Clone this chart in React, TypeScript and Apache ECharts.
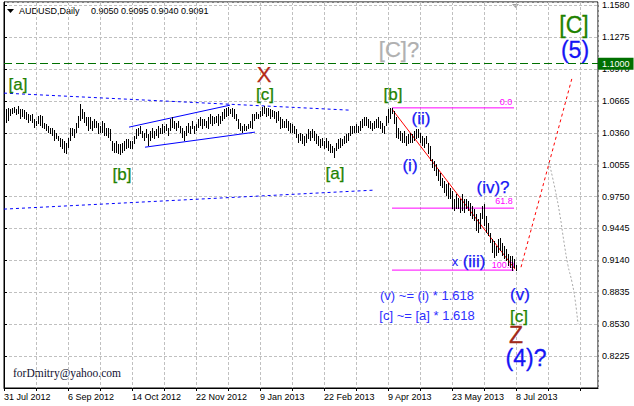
import React, { useEffect, useRef } from "react";
import * as echarts from "echarts";

// ---------- axis set-up ----------
const BASE = 0.792; // price of the bottom edge (axis value 0)
const TICK = 0.0305; // price step between horizontal grid lines
const TOP = 0.369; // axis value of the top edge
const SLOTS = 297; // bar slots across the plot
const X_LABEL_INDEX = [0, 32, 64, 96, 128, 160, 192, 224, 256];
const X_LABELS = [
  "31 Jul 2012",
  "6 Sep 2012",
  "14 Oct 2012",
  "22 Nov 2012",
  "9 Jan 2013",
  "22 Feb 2013",
  "9 Apr 2013",
  "23 May 2013",
  "8 Jul 2013",
];

// ---------- daily bars (high / low) ----------
const HIGHS = [
  1.0554, 1.0585, 1.0595, 1.0585, 1.0601, 1.0611, 1.0585, 1.0617, 1.0585, 1.0585,
  1.0576, 1.0554, 1.0538, 1.0531, 1.0538, 1.049, 1.0474, 1.0522, 1.0531, 1.0522,
  1.0458, 1.0442, 1.0426, 1.041, 1.041, 1.0384, 1.0362, 1.033, 1.0314, 1.0298,
  1.0282, 1.0266, 1.0314, 1.041, 1.041, 1.0394, 1.0458, 1.0522, 1.0633, 1.0585,
  1.0554, 1.0506, 1.0506, 1.0506, 1.0474, 1.049, 1.0474, 1.0458, 1.0426, 1.0474,
  1.0458, 1.041, 1.041, 1.0394, 1.0282, 1.0266, 1.0282, 1.025, 1.025, 1.0266,
  1.0282, 1.0298, 1.0298, 1.0282, 1.0282, 1.033, 1.0394, 1.041, 1.0426, 1.0378,
  1.0362, 1.0394, 1.0346, 1.0378, 1.041, 1.0378, 1.0394, 1.0426, 1.041, 1.0442,
  1.0426, 1.0442, 1.041, 1.049, 1.0506, 1.0474, 1.0458, 1.0474, 1.0426, 1.041,
  1.0378, 1.0426, 1.0458, 1.0426, 1.0474, 1.0426, 1.0442, 1.049, 1.0506, 1.049,
  1.049, 1.0474, 1.0506, 1.0538, 1.0522, 1.0506, 1.0522, 1.0538, 1.0522, 1.0554,
  1.0585, 1.0601, 1.0608, 1.0585, 1.0601, 1.0585, 1.0538, 1.049, 1.0458, 1.0426,
  1.0442, 1.0426, 1.0442, 1.0474, 1.0538, 1.0538, 1.0554, 1.0538, 1.057, 1.0608,
  1.0617, 1.0601, 1.0601, 1.0585, 1.0576, 1.057, 1.0554, 1.057, 1.0506, 1.049,
  1.0474, 1.049, 1.0474, 1.0458, 1.0442, 1.0426, 1.0394, 1.0346, 1.0362, 1.0346,
  1.033, 1.0346, 1.0394, 1.0378, 1.0394, 1.0378, 1.0346, 1.033, 1.0298, 1.0314,
  1.0282, 1.0314, 1.0282, 1.025, 1.0235, 1.0219, 1.0266, 1.0298, 1.0314, 1.0298,
  1.033, 1.0346, 1.0362, 1.0426, 1.0426, 1.0426, 1.0442, 1.0426, 1.0474, 1.049,
  1.0506, 1.0506, 1.049, 1.0474, 1.0458, 1.0474, 1.049, 1.0506, 1.0474, 1.0458,
  1.0426, 1.0522, 1.0585, 1.0601, 1.0601, 1.0569, 1.0506, 1.041, 1.0378, 1.0362,
  1.0378, 1.033, 1.0346, 1.0362, 1.0346, 1.0378, 1.0394, 1.0394, 1.0362, 1.033,
  1.0314, 1.033, 1.0266, 1.0234, 1.0107, 1.0091, 1.0059, 1.0011, 0.9979, 0.9931,
  0.9899, 0.9868, 0.9884, 0.9836, 0.9804, 0.9724, 0.9772, 0.974, 0.9724, 0.9772,
  0.9724, 0.9724, 0.9708, 0.9692, 0.966, 0.9628, 0.9581, 0.9533, 0.9596, 0.966,
  0.9676, 0.9565, 0.9501, 0.9405, 0.9341, 0.9325, 0.9277, 0.9341, 0.9357, 0.9309,
  0.9277, 0.9246, 0.9198, 0.9182, 0.9182, 0.915, 0.9095,
];
const LOWS = [
  1.0442, 1.0458, 1.0474, 1.0522, 1.0538, 1.0547, 1.0531, 1.0538, 1.0496, 1.0506,
  1.049, 1.048, 1.0458, 1.0474, 1.0458, 1.041, 1.0426, 1.0442, 1.0426, 1.041,
  1.0394, 1.0378, 1.0362, 1.0346, 1.033, 1.0282, 1.0298, 1.0282, 1.0225, 1.0203,
  1.0171, 1.0161, 1.0219, 1.0282, 1.033, 1.0314, 1.0362, 1.041, 1.0474, 1.049,
  1.0458, 1.0426, 1.0378, 1.0394, 1.0378, 1.041, 1.041, 1.0346, 1.0362, 1.0362,
  1.033, 1.033, 1.0314, 1.0282, 1.0187, 1.0171, 1.0171, 1.0155, 1.0148, 1.0171,
  1.0187, 1.0203, 1.0219, 1.0203, 1.0203, 1.025, 1.0298, 1.033, 1.0346, 1.0314,
  1.0282, 1.0314, 1.0235, 1.0282, 1.0314, 1.0298, 1.033, 1.0314, 1.0346, 1.0346,
  1.0362, 1.0378, 1.033, 1.0378, 1.041, 1.0394, 1.0378, 1.041, 1.0362, 1.0314,
  1.0282, 1.033, 1.0362, 1.0346, 1.0394, 1.0346, 1.0378, 1.041, 1.0426, 1.0394,
  1.0426, 1.041, 1.0394, 1.0442, 1.0426, 1.0442, 1.0458, 1.0426, 1.0442, 1.0474,
  1.049, 1.0506, 1.0522, 1.0538, 1.0506, 1.049, 1.0474, 1.0394, 1.0378, 1.0362,
  1.0378, 1.0378, 1.0394, 1.041, 1.0394, 1.0474, 1.049, 1.049, 1.0506, 1.0522,
  1.0538, 1.0506, 1.0522, 1.049, 1.0506, 1.049, 1.0458, 1.0474, 1.0394, 1.041,
  1.041, 1.041, 1.0378, 1.0362, 1.0362, 1.0346, 1.0314, 1.0266, 1.0282, 1.025,
  1.0235, 1.0266, 1.0298, 1.0282, 1.0314, 1.0282, 1.025, 1.0235, 1.0219, 1.0235,
  1.0203, 1.0219, 1.0187, 1.0171, 1.0171, 1.0123, 1.0187, 1.0203, 1.0219, 1.0235,
  1.025, 1.0266, 1.0282, 1.033, 1.0346, 1.0362, 1.0362, 1.0362, 1.0378, 1.041,
  1.0426, 1.0426, 1.041, 1.0394, 1.0378, 1.0394, 1.041, 1.041, 1.0394, 1.0362,
  1.0346, 1.0426, 1.0458, 1.049, 1.0538, 1.0442, 1.0314, 1.0298, 1.0282, 1.0266,
  1.0266, 1.0234, 1.025, 1.0266, 1.0266, 1.0282, 1.0298, 1.0314, 1.0266, 1.0234,
  1.0218, 1.025, 1.0155, 1.0091, 1.0027, 0.9995, 0.9947, 0.9899, 0.9852, 0.9836,
  0.9788, 0.9756, 0.9724, 0.9724, 0.9628, 0.9612, 0.9628, 0.9628, 0.9596, 0.9612,
  0.9596, 0.9628, 0.9612, 0.9565, 0.9533, 0.9517, 0.9421, 0.9405, 0.9437, 0.9533,
  0.9469, 0.9405, 0.9373, 0.9309, 0.9214, 0.9166, 0.9182, 0.9214, 0.923, 0.9182,
  0.915, 0.9134, 0.9086, 0.907, 0.9038, 0.907, 0.904,
];

// ---------- drawn objects (bar index, price) ----------
const LEVEL_LINE = 1.1;
const FIB_TOP = 1.0598;
const FIB_BOTTOM = 0.9047;
const FIB_LEVELS = [0, 61.8, 100];
const FIB_LABELS = ["0.0", "61.8", "100.0"];
const FIB_FROM = 194;
const FIB_TO = 255;
const CHANNEL_UPPER = [[0, 1.0739], [173, 1.0576]];
const CHANNEL_LOWER = [[0, 0.963], [184.5, 0.9811]];
const WEDGE_UPPER = [[62.5, 1.0414], [113, 1.0624]];
const WEDGE_LOWER = [[70.5, 1.0222], [125.5, 1.0366]];
const DECLINE_LINE = [[194, 1.0586], [255.5, 0.9056]];
const PROJECTION_UP = [[258.5, 0.9075], [284, 1.0882]];
const PROJECTION_DOWN = [[272.5, 1.0079], [275.5, 0.9824], [278, 0.9569], [280, 0.9314], [282, 0.9091], [284, 0.8932], [285.5, 0.8772], [287, 0.853]];

// wave labels: text, bar index, price, kind
const WAVE_TEXT = ["[a]", "[b]", "[c]", "X", "[C]?", "[b]", "(ii)", "(i)", "[a]", "[C]", "(5)", "(iv)?", "x", "(iii)", "(v) ~= (i) * 1.618", "[c] ~= [a] * 1.618", "(v)", "[c]", "Z", "(4)?"];
const WAVE_INDEX = [7, 59, 130.5, 130, 197.5, 194.5, 208.5, 203, 165.5, 285, 285.5, 244.5, 225.5, 235, 211.5, 211.5, 258, 257.5, 256, 261];
const WAVE_PRICE = [1.0825, 0.9964, 1.0729, 1.092, 1.1159, 1.0729, 1.05, 1.0046, 0.9974, 1.1389, 1.1152, 0.984, 0.9133, 0.9133, 0.8808, 0.8616, 0.8817, 0.8607, 0.8426, 0.8208];
const WAVE_KIND = ["g", "g", "g", "r", "grey", "g", "b", "b", "g", "gBig", "bBig", "b", "bSmall", "b", "note", "note", "b", "g", "rBig", "bBig"];
const FIB_LABEL_INDEX = [251, 250, 249.5];
const FIB_LABEL_PRICE = [1.0653, 0.9706, 0.9094];

const TITLE = "AUDUSD,Daily";
const TITLE_OHLC = "0.9050 0.9095 0.9040 0.9091";
const SIGNATURE = "forDmitry@yahoo.com";

const FONT = "Liberation Sans, Arial, sans-serif";
const KIND_STYLE: Record<string, { color: string; size: number; stroke: number }> = {
  g: { color: "#1f8200", size: 17, stroke: 0.25 },
  gBig: { color: "#1f8200", size: 23, stroke: 0.3 },
  b: { color: "#1515f5", size: 17, stroke: 0.25 },
  bBig: { color: "#1515f5", size: 23, stroke: 0.3 },
  bSmall: { color: "#1515f5", size: 13, stroke: 0 },
  note: { color: "#2f2fff", size: 13, stroke: 0 },
  r: { color: "#b52a18", size: 22, stroke: 0.25 },
  rBig: { color: "#a02a1a", size: 23, stroke: 0.3 },
  grey: { color: "#b0b0b0", size: 22, stroke: 0.25 },
};

export default function App() {
  const ref = useRef<HTMLDivElement>(null);

  useEffect(() => {
    const chart = echarts.init(ref.current!, null, { renderer: "svg" });
    const v = (p: number) => +(p - BASE).toFixed(6);

    const lineSeries = (pts: number[][], color: string, type: any, extra: any = {}) => ({
      type: "line",
      data: pts.map(([i, p]) => [i, v(p)]),
      symbol: "none",
      silent: true,
      z: 3,
      lineStyle: { color, type, width: 1 },
      ...extra,
    });

    const fibPrice = (lvl: number) => FIB_TOP - (lvl / 100) * (FIB_TOP - FIB_BOTTOM);

    const textLabel = (text: string, color: string, size: number, stroke: number) => ({
      show: true,
      position: "inside",
      formatter: text,
      color,
      opacity: 1,
      fontSize: size,
      lineHeight: Math.round(size * 0.85),
      fontFamily: FONT,
      textBorderColor: color,
      textBorderWidth: stroke,
    });

    const option: any = {
      animation: false,
      backgroundColor: "#ffffff",
      grid: {
        left: 4,
        top: 2,
        width: 594,
        height: 386,
        show: true,
        borderColor: "#000",
        borderWidth: 1,
        backgroundColor: "#fff",
      },
      xAxis: {
        type: "value",
        min: 0,
        max: SLOTS,
        interval: 16,
        axisLine: { show: true, onZero: false, lineStyle: { color: "#000" } },
        axisTick: { show: true, length: 3, lineStyle: { color: "#000" } },
        axisLabel: {
          color: "#000",
          fontSize: 9,
          fontFamily: FONT,
          align: "left",
          margin: 4,
          showMaxLabel: false,
          formatter: (val: number) => {
            const k = X_LABEL_INDEX.indexOf(Math.round(val));
            return k >= 0 ? X_LABELS[k] : "";
          },
        },
        splitLine: { show: true, lineStyle: { color: "#c0c0c0", type: [3, 2] } },
      },
      yAxis: {
        type: "value",
        position: "right",
        min: 0,
        max: TOP,
        interval: TICK,
        axisLine: { show: true, lineStyle: { color: "#000" } },
        axisTick: { show: true, length: 3, lineStyle: { color: "#000" } },
        axisLabel: {
          color: "#000",
          fontSize: 9,
          fontFamily: FONT,
          margin: 4,
          showMinLabel: false,
          showMaxLabel: false,
          formatter: (val: number) => (val + BASE).toFixed(4),
        },
        splitLine: { show: true, lineStyle: { color: "#c0c0c0", type: [3, 2] } },
      },
      series: [
        lineSeries(CHANNEL_UPPER, "#0000ff", [3, 3], {
          markLine: {
            silent: true,
            symbol: ["none", "none"],
            data: [{ yAxis: v(LEVEL_LINE) }],
            lineStyle: { color: "#007000", type: [8, 4], width: 1 },
            label: {
              show: true,
              position: "end",
              distance: 0,
              formatter: LEVEL_LINE.toFixed(4),
              color: "#fff",
              backgroundColor: "#007000",
              fontSize: 9,
              fontFamily: FONT,
              padding: [2, 4, 1, 4],
            },
          },
        }),
        lineSeries(CHANNEL_LOWER, "#0000ff", [3, 3]),
        lineSeries(WEDGE_UPPER, "#0000ff", "solid"),
        lineSeries(WEDGE_LOWER, "#0000ff", "solid"),
        lineSeries(DECLINE_LINE, "#ff0000", "solid"),
        lineSeries(PROJECTION_UP, "#ff0000", [3, 3]),
        lineSeries(PROJECTION_DOWN, "#a8a8a8", [2, 2], { smooth: true }),
        ...FIB_LEVELS.map((lvl) =>
          lineSeries([[FIB_FROM, fibPrice(lvl)], [FIB_TO, fibPrice(lvl)]], "#ff00ff", "solid")
        ),
        {
          type: "scatter",
          silent: true,
          symbolSize: 1,
          z: 2,
          itemStyle: { color: "rgba(0,0,0,0)" },
          data: FIB_LABELS.map((t, k) => ({
            value: [FIB_LABEL_INDEX[k], v(FIB_LABEL_PRICE[k])],
            label: textLabel(t, "#ff00ff", 9, 0),
          })),
        },
        {
          type: "custom",
          silent: true,
          z: 5,
          data: HIGHS.map((h, i) => [i, v(LOWS[i]), v(h)]),
          encode: { x: 0, y: [1, 2] },
          renderItem: (_params: any, api: any) => {
            const x = api.value(0);
            const a = api.coord([x, api.value(1)]);
            const b = api.coord([x, api.value(2)]);
            const px = Math.round(a[0]) + 0.5;
            return {
              type: "line",
              shape: { x1: px, y1: Math.round(a[1]), x2: px, y2: Math.round(b[1]) },
              style: { stroke: "#000", lineWidth: 1 },
            };
          },
        },
        {
          type: "scatter",
          silent: true,
          symbolSize: 1,
          z: 6,
          itemStyle: { color: "rgba(0,0,0,0)" },
          data: WAVE_TEXT.map((t, k) => {
            const st = KIND_STYLE[WAVE_KIND[k]];
            return {
              value: [WAVE_INDEX[k], v(WAVE_PRICE[k])],
              label: textLabel(t, st.color, st.size, st.stroke),
            };
          }),
        },
      ],
      graphic: [
        { type: "polygon", shape: { points: [[7, 9], [14, 9], [10.5, 13]] }, style: { fill: "#000" } },
        { type: "text", x: 19, y: 11, style: { text: TITLE, fill: "#000", font: `9px ${FONT}`, verticalAlign: "middle" } },
        { type: "text", x: 91, y: 11, style: { text: TITLE_OHLC, fill: "#000", font: `9px ${FONT}`, verticalAlign: "middle" } },
        { type: "polygon", shape: { points: [[512, 4], [519, 4], [515.5, 8]] }, style: { fill: "#a0a0a0" } },
        {
          type: "text",
          x: 13,
          y: 373,
          style: { text: SIGNATURE, fill: "#101030", font: "11.5px 'Liberation Serif', serif", verticalAlign: "middle" },
        },
      ],
    };

    chart.setOption(option);
    return () => chart.dispose();
  }, []);

  return (
    <div
      ref={ref}
      style={{ position: "fixed", left: 0, top: 0, width: 634, height: 406, background: "#fff" }}
    />
  );
}
